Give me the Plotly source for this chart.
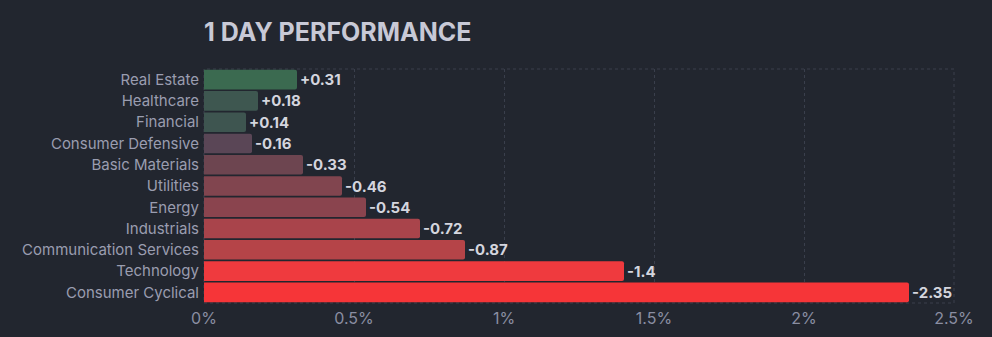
import plotly.graph_objects as go

# Sector one-day performance (%)
sectors = ["Real Estate", "Healthcare", "Financial", "Consumer Defensive",
           "Basic Materials", "Utilities", "Energy", "Industrials",
           "Communication Services", "Technology", "Consumer Cyclical"]
changes = [0.31, 0.18, 0.14, -0.16, -0.33, -0.46, -0.54, -0.72, -0.87, -1.4, -2.35]
bar_colors = ["#3b6a50", "#3e5750", "#3e5550", "#5a4656", "#6d4550", "#81454f",
              "#8a444e", "#a9444b", "#b54448", "#ef3a3e", "#f63538"]
x_ticks = [0, 0.5, 1, 1.5, 2, 2.5]
x_tick_labels = ["0%", "0.5%", "1%", "1.5%", "2%", "2.5%"]

bg = "#22262f"
grid = "#3a3f4c"


def fmt(v):
    return f"{v:+.2f}".rstrip("0").rstrip(".")


fig = go.Figure(go.Bar(
    x=[abs(v) for v in changes],
    y=sectors,
    orientation="h",
    marker=dict(color=bar_colors, line=dict(width=0)),
    text=[fmt(v) for v in changes],
    textposition="outside",
    textfont=dict(family="Inter, sans-serif", size=15, color="#d4d5de", weight="bold"),
    cliponaxis=False,
    hoverinfo="skip",
))

fig.update_layout(
    width=992, height=337,
    paper_bgcolor=bg, plot_bgcolor=bg,
    margin=dict(l=204, r=38, t=69, b=34),
    bargap=0.08,
    barcornerradius=2,
    showlegend=False,
    title=dict(text="<b>1 DAY PERFORMANCE</b>", x=204 / 992, xanchor="left",
               y=1 - 32 / 337, yanchor="middle",
               font=dict(family="Inter, sans-serif", size=25, color="#c8c9d6")),
    font=dict(family="Inter, sans-serif"),
    xaxis=dict(range=[0, 2.5], tickvals=x_ticks, ticktext=x_tick_labels,
               showgrid=True, gridcolor=grid, griddash="3px,3px", gridwidth=1,
               zeroline=False, showline=False, ticks="",
               ticklabelstandoff=4, automargin=False,
               tickfont=dict(size=16, color="#8a8ea2")),
    yaxis=dict(autorange="reversed", showgrid=False, zeroline=False, ticks="",
               ticklabelstandoff=4, automargin=False,
               tickfont=dict(size=15, color="#9a9db0")),
    shapes=[dict(type="rect", xref="paper", yref="paper", x0=0, x1=1, y0=0, y1=1,
                 line=dict(color=grid, width=1, dash="3px,3px"), layer="below")],
)

fig.write_html("out.html")
